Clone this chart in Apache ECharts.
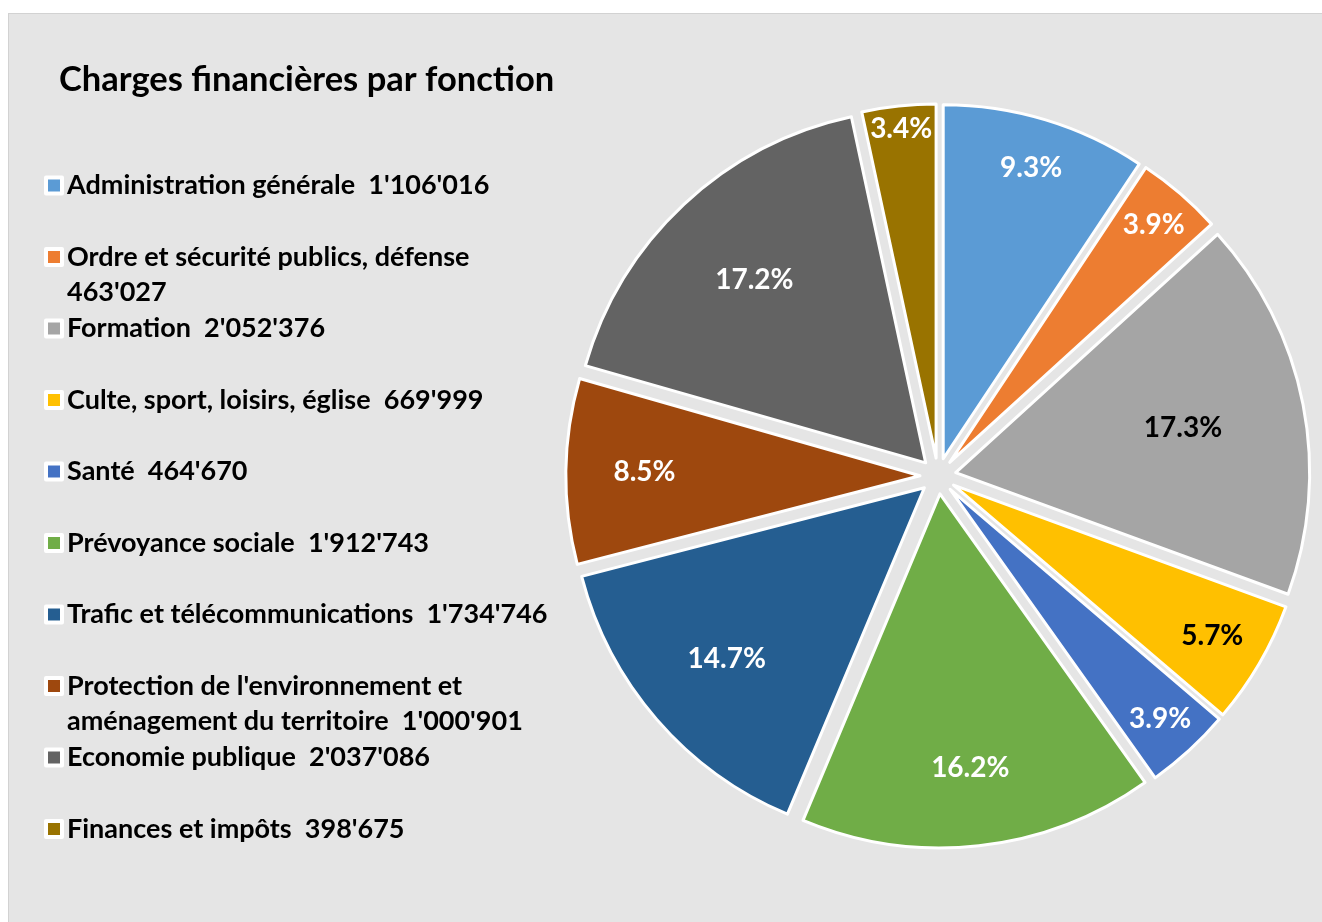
<!DOCTYPE html>
<html>
<head>
<meta charset="utf-8">
<script src="https://cdn.jsdelivr.net/npm/echarts@6/dist/echarts.min.js"></script>
<style>
  html, body { margin: 0; padding: 0; background: #ffffff; }
  #chart {
    position: absolute;
    left: 8px;
    top: 13px;
    width: 1320px;
    height: 915px;
    background: #e5e5e5;
    border-left: 1px solid #d2d2d2;
    border-top: 1px solid #d2d2d2;
  }
</style>
</head>
<body>
<div id="chart"></div>
<script>
var categories = [
  'Administration générale',
  'Ordre et sécurité publics, défense',
  'Formation',
  'Culte, sport, loisirs, église',
  'Santé',
  'Prévoyance sociale',
  'Trafic et télécommunications',
  "Protection de l'environnement et\naménagement du territoire",
  'Economie publique',
  'Finances et impôts'
];
var amounts = [1106016, 463027, 2052376, 669999, 464670, 1912743, 1734746, 1000901, 2037086, 398675];
var amountLabels = ["1'106'016", "463'027", "2'052'376", "669'999", "464'670", "1'912'743", "1'734'746", "1'000'901", "2'037'086", "398'675"];

var colors = ['#5b9bd5', '#ed7d31', '#a5a5a5', '#ffc000', '#4472c4', '#70ad47', '#255e91', '#9e480e', '#636363', '#997300'];
var labelColors = ['#fff', '#fff', '#000', '#000', '#fff', '#fff', '#fff', '#fff', '#fff', '#fff'];
// how far out along the radius each percentage sits (fraction of radius)
var labelRadius = [0.85, 0.876, 0.646, 0.838, 0.87, 0.77, 0.73, 0.77, 0.70, 0.926];

var font = 'Lato, "Noto Sans", sans-serif';
var cx = 929, cy = 462; // inside the chart div
var radius = 354;
var explode = 18;

var legendNames = categories.map(function(c, i) {
  return c + '  ' + amountLabels[i];
});
legendNames[1] = "Ordre et sécurité publics, défense\n463'027";

var total = amounts.reduce(function(a, b) { return a + b; }, 0);
var midAngles = [];
var acc = 0;
amounts.forEach(function(v) {
  midAngles.push((acc + v / 2) / total * Math.PI * 2);
  acc += v;
});

// pie puts inside labels at r/2; padding on the (rich) text box pushes it out to labelRadius
function labelPadding(i) {
  var s = (labelRadius[i] - 0.5) * radius;
  var sx = Math.sin(midAngles[i]) * s;
  var sy = -Math.cos(midAngles[i]) * s;
  return [
    sy > 0 ? 2 * sy : 0,
    sx < 0 ? -2 * sx : 0,
    sy < 0 ? -2 * sy : 0,
    sx > 0 ? 2 * sx : 0
  ];
}

var legends = legendNames.map(function(name, i) {
  var twoLines = name.indexOf('\n') >= 0;
  return {
    data: [name],
    orient: 'vertical',
    left: 35,
    top: 154 + i * 71.5 - (twoLines ? 35 : 0),
    padding: 0,
    itemWidth: 16,
    itemHeight: 16,
    icon: 'rect',
    selectedMode: false,
    // blank first line keeps the icon level with the first text line
    formatter: function(n) {
      return n.indexOf('\n') >= 0 ? '\n' + n : n;
    },
    itemStyle: { borderColor: '#fff', borderWidth: 4 },
    textStyle: {
      fontFamily: font,
      fontWeight: 'bold',
      fontSize: 27,
      color: '#000',
      lineHeight: 35
    }
  };
});

var chart = echarts.init(document.getElementById('chart'), null, { renderer: 'canvas' });
chart.setOption({
  animation: false,
  backgroundColor: 'transparent',
  color: colors,
  title: {
    text: 'Charges financières par fonction',
    left: 45,
    top: 43,
    textStyle: {
      fontFamily: font,
      fontWeight: 'bold',
      fontSize: 34.5,
      color: '#000'
    }
  },
  legend: legends,
  series: [{
    type: 'pie',
    center: [cx, cy],
    radius: radius,
    startAngle: 90,
    clockwise: true,
    selectedMode: 'multiple',
    selectedOffset: explode,
    emphasis: { disabled: true },
    itemStyle: { borderColor: '#fff', borderWidth: 3 },
    label: {
      show: true,
      position: 'inside',
      formatter: function(p) {
        return '{p|' + (p.value / total * 100).toFixed(1) + '%}';
      },
      fontFamily: font,
      fontWeight: 'bold',
      fontSize: 28
    },
    labelLine: { show: false },
    data: amounts.map(function(v, i) {
      return {
        name: legendNames[i],
        value: v,
        selected: true,
        label: {
          color: labelColors[i],
          padding: labelPadding(i),
          rich: {
            p: {
              color: labelColors[i],
              fontFamily: font,
              fontWeight: 'bold',
              fontSize: 28,
              lineHeight: 32
            }
          }
        }
      };
    })
  }]
});

window.addEventListener('resize', function() {
  chart.resize();
});
</script>
</body>
</html>
